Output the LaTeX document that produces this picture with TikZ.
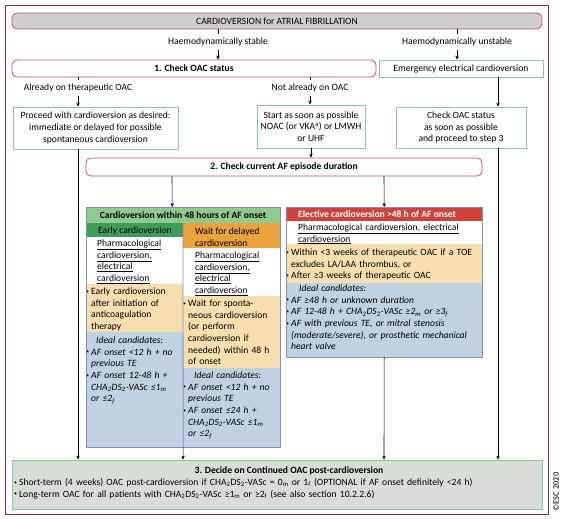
\documentclass[tikz,border=0pt]{standalone}
\usepackage{fontspec}
\setmainfont{Carlito}
\usepackage{xcolor}
\usepackage{graphicx}
\usetikzlibrary{arrows.meta}

\definecolor{framered}{HTML}{8E2A3F}
\definecolor{redline}{HTML}{C9505E}
\definecolor{titlegray}{HTML}{CFCFCF}
\definecolor{greenline}{HTML}{8CC79A}
\definecolor{hdrgreen}{HTML}{8FCB8F}
\definecolor{earlygreen}{HTML}{3E9C5A}
\definecolor{waitorange}{HTML}{E9A23C}
\definecolor{elecred}{HTML}{CF4139}
\definecolor{peach}{HTML}{F7DEAE}
\definecolor{cellblue}{HTML}{C0D1E2}
\definecolor{boxblue}{HTML}{7F90BF}
\definecolor{bottomfill}{HTML}{D8DED6}

\newcommand{\bl}{\makebox[5pt][l]{\raisebox{0.25ex}{\scalebox{0.6}{\textbullet}}}}
\newcommand{\ind}{\hspace*{5pt}}
\newcommand{\chads}{CHA\textsubscript{2}DS\textsubscript{2}-VASc}

\tikzset{
	redbox/.style={draw=redline, rounded corners=5pt, line width=0.8pt, inner sep=0pt},
	greenbox/.style={draw=greenline, line width=0.8pt, inner sep=0pt, align=center},
	txt/.style={anchor=north west, inner sep=0pt, align=left},
	arr/.style={-{Stealth[length=4pt, width=3.5pt]}, line width=0.6pt},
}

\begin{document}
\fontsize{9.6}{11.7}\selectfont
\begin{tikzpicture}[x=1pt, y=-1pt]
	\useasboundingbox (0,0) rectangle (563,519);
	\draw[framered, line width=0.8pt] (5,5) rectangle (548,514);

	\node[redbox, fill=titlegray, minimum width=530pt, minimum height=16pt] (title) at (277,21) {CARDIOVERSION for ATRIAL FIBRILLATION};
	\node (stable) at (218,42) {Haemodynamically stable};
	\node (unstable) at (457,42) {Haemodynamically unstable};

	\node[redbox, minimum width=364pt, minimum height=17pt, font=\bfseries] (oac) at (194,68.5) {1. Check OAC status};
	\node[greenbox, minimum width=164pt, minimum height=17pt] (emerg) at (461,68.5) {Emergency electrical cardioversion};

	\node (already) at (78,88) {Already on therapeutic OAC};
	\node (notyet) at (310,88) {Not already on OAC};

	\node[greenbox, minimum width=165pt, minimum height=42pt] (proceed) at (95.5,128) {Proceed with cardioversion as desired:\\ immediate or delayed for possible\\ spontaneous cardioversion};
	\node[greenbox, minimum width=108pt, minimum height=43pt] (start) at (311,126.5) {Start as soon as possible\\ NOAC (or VKA\textsuperscript{a}) or LMWH\\ or UHF};
	\node[greenbox, minimum width=130pt, minimum height=41pt] (check) at (461,127.5) {Check OAC status\\ as soon as possible\\ and proceed to step 3};

	\node[redbox, minimum width=396pt, minimum height=18pt, font=\bfseries] (dur) at (284,167) {2. Check current AF episode duration};

	% Cardioversion within 48 h
	\node[fill=cellblue, minimum width=194pt, minimum height=240pt, anchor=north west, inner sep=0pt] (early48) at (86,207) {};
	\fill[earlygreen] (86,223) rectangle (183,237);
	\fill[white] (86,237) rectangle (183,284);
	\fill[peach] (86,284) rectangle (183,332);
	\fill[waitorange] (183,223) rectangle (280,248);
	\fill[white] (183,248) rectangle (280,296);
	\fill[peach] (183,296) rectangle (280,368);
	\node[fill=hdrgreen, minimum width=194pt, minimum height=16pt, inner sep=0pt, font=\bfseries] (h48) at (183,215) {Cardioversion within 48 hours of AF onset};

	\node[txt] (earlyhd) at (98,225) {\strut Early cardioversion};
	\node[txt, text width=84pt] (earlypc) at (97,238) {\strut\underline{Pharmacological}\\ \underline{cardioversion,}\\ \underline{electrical}\\ \underline{cardioversion}};
	\node[txt, text width=95pt] (earlytx) at (86,286) {\strut\bl Early cardioversion\\ \ind after initiation of\\ \ind anticoagulation\\ \ind therapy};
	\node[txt, text width=95pt, font=\itshape] (earlyic) at (86,335) {\strut\hspace*{10pt}Ideal candidates:\\ \bl AF onset <12 h + no\\ \ind previous TE\\ \bl AF onset 12-48 h +\\ \ind \chads{} ≤1\textsubscript{m}\\ \ind or ≤2\textsubscript{f}};

	\node[txt] (waithd) at (195,226) {\strut Wait for delayed\\ cardioversion};
	\node[txt, text width=84pt] (waitpc) at (195,250) {\strut\underline{Pharmacological}\\ \underline{cardioversion,}\\ \underline{electrical}\\ \underline{cardioversion}};
	\node[txt, text width=96pt] (waittx) at (183,298) {\strut\bl Wait for sponta-\\ \ind neous cardioversion\\ \ind (or perform\\ \ind cardioversion if\\ \ind needed) within 48 h\\ \ind of onset};
	\node[txt, text width=96pt, font=\itshape] (waitic) at (183,370) {\strut\hspace*{11pt}Ideal candidates:\\ \bl AF onset <12 h + no\\ \ind previous TE\\ \bl AF onset ≤24 h +\\ \ind \chads{} ≤1\textsubscript{m}\\ \ind or ≤2\textsubscript{f}};

	\draw[boxblue, line width=0.8pt] (early48.north west) rectangle (early48.south east);
	\draw[boxblue, line width=0.8pt] (183,223) -- (early48.south);

	% Elective cardioversion
	\node[fill=cellblue, minimum width=196pt, minimum height=150pt, anchor=north west, inner sep=0pt] (elect) at (286,207) {};
	\fill[elecred] (286,207) rectangle (482,221);
	\fill[white] (286,221) rectangle (482,244);
	\fill[peach] (286,244) rectangle (482,283);

	\node[txt, text=white, font=\bfseries] (electhd) at (298,209) {\strut Elective cardioversion >48 h of AF onset};
	\node[txt, text width=182pt] (electpc) at (298,222) {\strut\underline{Pharmacological cardioversion, electrical}\\ \underline{cardioversion}};
	\node[txt, text width=194pt] (electtx) at (286,247) {\strut\bl Within <3 weeks of therapeutic OAC if a TOE\\ \ind excludes LA/LAA thrombus, or\\ \bl After ≥3 weeks of therapeutic OAC};
	\node[txt, text width=194pt, font=\itshape] (electic) at (286,283) {\strut\hspace*{13pt}Ideal candidates:\\ \bl AF ≥48 h or unknown duration\\ \bl AF 12-48 h + \chads{} ≥2\textsubscript{m} or ≥3\textsubscript{f}\\ \bl AF with previous TE, or mitral stenosis\\ \ind (moderate/severe), or prosthetic mechanical\\ \ind heart valve};

	\draw[boxblue, line width=0.8pt] (elect.north west) rectangle (elect.south east);

	% Continued OAC
	\node[draw=greenline, fill=bottomfill, line width=0.8pt, minimum width=530pt, minimum height=49pt, inner sep=0pt] (cont) at (277,484.5) {};
	\node[font=\bfseries, inner sep=0pt] (conthd) at (289,471) {3. Decide on Continued OAC post-cardioversion};
	\node[txt, text width=525pt] (conttx) at (14,477) {\strut\bl Short-term (4 weeks) OAC post-cardioversion if \chads{} = 0\textsubscript{m} or 1\textsubscript{f} (OPTIONAL if AF onset definitely <24 h)\\ \bl Long-term OAC for all patients with \chads{} ≥1\textsubscript{m} or ≥2\textsubscript{f} (see also section 10.2.2.6)};

	\node[rotate=90, font=\fontsize{8.5}{10}\selectfont\bfseries, text=black!75, inner sep=0pt] (esc) at (556,492) {©ESC 2020};

	% Draw the connectors
	\draw[line width=0.6pt] (title.south -| stable.north) -- (stable.north);
	\draw[line width=0.6pt] (title.south -| unstable.north) -- (unstable.north);
	\draw[arr] (stable.south) -- (stable.south |- oac.north);
	\draw[arr] (unstable.south) -- (unstable.south |- emerg.north);
	\draw[line width=0.6pt] (oac.south -| already.north) -- (already.north);
	\draw[line width=0.6pt] (oac.south -| notyet.north) -- (notyet.north);
	\draw[arr] (already.south) -- (already.south |- proceed.north);
	\draw[arr] (notyet.south) -- (notyet.south |- start.north);
	\draw[arr] ([xshift=37pt]emerg.south) -- ([xshift=37pt]check.north);
	\draw[arr] (start.south) -- (start.south |- dur.north);
	\draw[arr] ([xshift=-112pt]dur.south) -- ([xshift=-11pt]early48.north);
	\draw[arr] ([xshift=100pt]dur.south) -- (elect.north);
	\draw[arr] ([xshift=-17.5pt]proceed.south) -- ([xshift=-199pt]cont.north);
	\draw[arr] (early48.south) -- ([xshift=-94pt]cont.north);
	\draw[arr] (elect.south) -- ([xshift=107pt]cont.north);
	\draw[arr] ([xshift=37pt]check.south) -- ([xshift=221pt]cont.north);
\end{tikzpicture}
\end{document}
